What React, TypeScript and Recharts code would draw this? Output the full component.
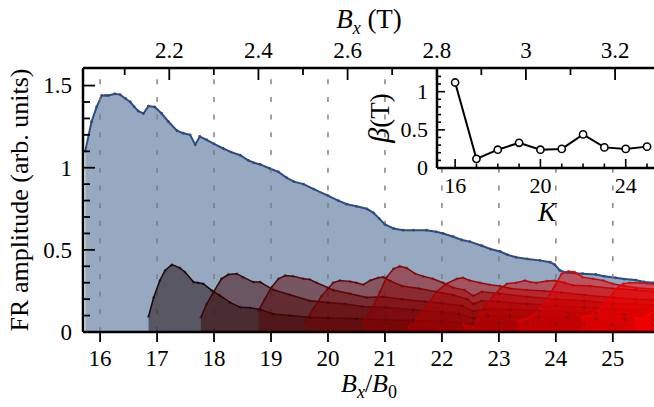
import React from "react";
import {
  Area,
  ComposedChart,
  Label,
  Line,
  LineChart,
  ReferenceArea,
  ReferenceLine,
  XAxis,
  YAxis,
} from "recharts";

const font = "Liberation Serif, Times New Roman, serif";

// Bx/B0 -> tesla
const B0 = 0.1278;

// main trace: [Bx/B0, FR amplitude]
const blue: [number, number][] = [
  [15.74, 1.1], [15.8, 1.2], [15.85, 1.28], [15.94, 1.37], [16.03, 1.44], [16.1, 1.44], [16.15, 1.44],
  [16.26, 1.45], [16.35, 1.445], [16.45, 1.42], [16.53, 1.4], [16.6, 1.37], [16.67, 1.345], [16.76, 1.33],
  [16.85, 1.375], [16.96, 1.37], [17.08, 1.33], [17.2, 1.28], [17.35, 1.225], [17.46, 1.21], [17.58, 1.2],
  [17.67, 1.14], [17.75, 1.19], [17.87, 1.17], [18.0, 1.145], [18.16, 1.117], [18.3, 1.095], [18.46, 1.076],
  [18.6, 1.045], [18.7, 1.03], [18.81, 1.02], [18.98, 0.995], [19.13, 0.975], [19.27, 0.94], [19.4, 0.915],
  [19.57, 0.9], [19.75, 0.87], [20.0, 0.83], [20.18, 0.8], [20.33, 0.778], [20.5, 0.765], [20.68, 0.75],
  [20.8, 0.725], [20.9, 0.69], [21.0, 0.655], [21.15, 0.63], [21.32, 0.62], [21.5, 0.62], [21.73, 0.62],
  [21.9, 0.61], [22.02, 0.6], [22.2, 0.58], [22.35, 0.56], [22.49, 0.55], [22.7, 0.525], [22.85, 0.505],
  [23.02, 0.49], [23.15, 0.47], [23.3, 0.455], [23.5, 0.445], [23.72, 0.436], [23.9, 0.425], [23.98, 0.41],
  [24.07, 0.375], [24.2, 0.36], [24.47, 0.355], [24.7, 0.35], [24.85, 0.34], [25.05, 0.33], [25.2, 0.322],
  [25.4, 0.316], [25.55, 0.305], [25.72, 0.3],
];

// filtered traces, one per K
const k16: [number, number][] = [
  [16.85, 0.094], [16.94, 0.21], [17.05, 0.314], [17.14, 0.375], [17.26, 0.41], [17.4, 0.39], [17.49, 0.365],
  [17.64, 0.304], [17.72, 0.3], [17.81, 0.294], [17.96, 0.253], [18.1, 0.223], [18.28, 0.18], [18.46, 0.15],
  [18.63, 0.147], [18.81, 0.137], [19.04, 0.11], [19.33, 0.1], [19.68, 0.09], [20.0, 0.085], [20.5, 0.08],
  [21.0, 0.075], [21.5, 0.07], [22.0, 0.065], [22.55, 0.05], [23.0, 0.055], [23.5, 0.052], [24.0, 0.05],
  [24.5, 0.048], [25.0, 0.046], [25.72, 0.044],
];
const k17: [number, number][] = [
  [17.77, 0.09], [17.87, 0.17], [17.99, 0.243], [18.13, 0.324], [18.25, 0.35], [18.4, 0.355], [18.51, 0.334],
  [18.69, 0.304], [18.81, 0.304], [19.04, 0.257], [19.33, 0.227], [19.68, 0.19], [20.0, 0.18], [20.3, 0.17],
  [20.6, 0.155], [21.0, 0.15], [21.5, 0.135], [22.0, 0.12], [22.3, 0.11], [22.55, 0.085], [22.8, 0.1],
  [23.2, 0.098], [23.7, 0.092], [24.2, 0.088], [24.7, 0.082], [25.2, 0.078], [25.72, 0.074],
];
const k18: [number, number][] = [
  [18.78, 0.13], [18.89, 0.2], [19.01, 0.273], [19.13, 0.324], [19.25, 0.344], [19.39, 0.34], [19.57, 0.324],
  [19.68, 0.32], [19.8, 0.3], [20.0, 0.27], [20.09, 0.255], [20.39, 0.233], [20.68, 0.21], [20.97, 0.215],
  [21.3, 0.2], [21.7, 0.185], [22.0, 0.175], [22.35, 0.16], [22.55, 0.125], [22.75, 0.14], [23.2, 0.138],
  [23.7, 0.13], [24.2, 0.12], [24.7, 0.115], [25.2, 0.108], [25.72, 0.1],
];
const k19: [number, number][] = [
  [19.6, 0.06], [19.74, 0.14], [19.89, 0.22], [20.0, 0.263], [20.09, 0.3], [20.21, 0.314], [20.39, 0.308],
  [20.5, 0.3], [20.62, 0.288], [20.74, 0.314], [20.88, 0.33], [20.97, 0.334], [21.1, 0.31], [21.3, 0.28],
  [21.6, 0.265], [21.9, 0.245], [22.2, 0.225], [22.45, 0.2], [22.55, 0.17], [22.7, 0.19], [23.0, 0.185],
  [23.5, 0.17], [24.0, 0.16], [24.5, 0.15], [25.0, 0.14], [25.72, 0.13],
];
const k20: [number, number][] = [
  [20.62, 0.06], [20.77, 0.14], [20.91, 0.243], [21.03, 0.334], [21.15, 0.385], [21.26, 0.4], [21.38, 0.39],
  [21.53, 0.355], [21.67, 0.34], [21.84, 0.324], [22.02, 0.3], [22.2, 0.27], [22.4, 0.255], [22.55, 0.22],
  [22.7, 0.245], [23.0, 0.235], [23.5, 0.215], [24.0, 0.2], [24.5, 0.19], [25.0, 0.175], [25.72, 0.165],
];
const k21: [number, number][] = [
  [21.41, 0.03], [21.55, 0.08], [21.73, 0.16], [21.9, 0.243], [22.08, 0.294], [22.26, 0.324], [22.37, 0.33],
  [22.49, 0.314], [22.67, 0.3], [22.84, 0.288], [23.02, 0.28], [23.2, 0.265], [23.5, 0.255], [23.8, 0.25],
  [24.1, 0.24], [24.5, 0.225], [25.0, 0.21], [25.4, 0.2], [25.72, 0.195],
];
const k22: [number, number][] = [
  [22.37, 0.05], [22.45, 0.035], [22.53, 0.022], [22.67, 0.11], [22.78, 0.17], [22.9, 0.22], [23.02, 0.263],
  [23.14, 0.294], [23.3, 0.3], [23.46, 0.314], [23.55, 0.305], [23.66, 0.3], [23.84, 0.31], [23.98, 0.314],
  [24.15, 0.3], [24.3, 0.285], [24.6, 0.28], [25.0, 0.265], [25.4, 0.255], [25.72, 0.245],
];
const k23: [number, number][] = [
  [23.34, 0.07], [23.49, 0.08], [23.66, 0.12], [23.84, 0.2], [23.98, 0.28], [24.1, 0.355], [24.22, 0.37],
  [24.33, 0.365], [24.47, 0.334], [24.65, 0.324], [24.83, 0.314], [25.0, 0.294], [25.2, 0.28], [25.4, 0.27],
  [25.72, 0.26],
];
const k24: [number, number][] = [
  [24.45, 0.09], [24.6, 0.1], [24.77, 0.14], [24.92, 0.2], [25.06, 0.263], [25.18, 0.294], [25.3, 0.3],
  [25.47, 0.3], [25.6, 0.295], [25.72, 0.29],
];
const k25: [number, number][] = [[25.39, 0.09], [25.5, 0.078], [25.61, 0.1], [25.72, 0.13]];

const curves = [k16, k17, k18, k19, k20, k21, k22, k23, k24, k25];
const curveColors = [
  "#1c0606", "#3c0404", "#580303", "#740202", "#900202",
  "#ab0101", "#c40000", "#dc0000", "#f00000", "#ff0000",
];

// inset
const kValues = [16, 17, 18, 19, 20, 21, 22, 23, 24, 25];
const betaValues = [1.12, 0.12, 0.24, 0.33, 0.24, 0.25, 0.44, 0.27, 0.25, 0.28];

// ticks
const dashedAt = [16, 17, 18, 19, 20, 21, 22, 23, 24, 25];
const bottomTicks = [16, 17, 18, 19, 20, 21, 22, 23, 24, 25];
const leftTicks = [0, 0.1, 0.2, 0.3, 0.4, 0.5, 0.6, 0.7, 0.8, 0.9, 1, 1.1, 1.2, 1.3, 1.4, 1.5];
const leftMajor = [0, 0.5, 1, 1.5];
const topTicks = [2.1, 2.2, 2.3, 2.4, 2.5, 2.6, 2.7, 2.8, 2.9, 3, 3.1, 3.2]; // tesla
const topMajor = [2.2, 2.4, 2.6, 2.8, 3, 3.2];
const insetXTicks = [16, 17, 18, 19, 20, 21, 22, 23, 24, 25];
const insetXMajor = [16, 20, 24];
const insetYTicks = [0, 0.1, 0.2, 0.3, 0.4, 0.5, 0.6, 0.7, 0.8, 0.9, 1, 1.1, 1.2];
const insetYMajor = [0, 0.5, 1];

const xDomain = [15.7, 25.74];
const yDomain = [0, 1.607];
// where the inset box sits, in main-plot units
const insetLeft = 21.91;
const insetBottom = 1.0;

const keys = curves.map((_, i) => `k${kValues[i]}`);
const allX = Array.from(new Set([...blue, ...curves.flat()].map((p) => p[0]))).sort((a, b) => a - b);
const table = allX.map((x) => {
  const row: Record<string, number> = { x };
  const b = blue.find((p) => p[0] === x);
  if (b) row.blue = b[1];
  curves.forEach((c, i) => {
    const p = c.find((q) => q[0] === x);
    if (p) row[keys[i]] = p[1];
  });
  return row;
});
const insetData = kValues.map((k, i) => ({ k, beta: betaValues[i] }));
// top axis shares the Bx/B0 scale, ticks placed at tesla / B0
const topTicksX = topTicks.map((t) => t / B0);

const fmt = (v: number) => String(v);

function LeftTick({ x, y, payload }: any) {
  const major = leftMajor.includes(payload.value);
  return (
    <g>
      <line x1={x} x2={x + (major ? 12 : 7)} y1={y} y2={y} stroke="#000" strokeWidth={1.8} />
      {major && (
        <text x={x - 11} y={y} dy="0.34em" textAnchor="end" fontSize={23} fontFamily={font} fill="#000">
          {fmt(payload.value)}
        </text>
      )}
    </g>
  );
}

function BottomTick({ x, y, payload }: any) {
  return (
    <g>
      <line x1={x} x2={x} y1={y} y2={y + 10} stroke="#000" strokeWidth={1.8} />
      <text x={x} y={y + 34} textAnchor="middle" fontSize={23} fontFamily={font} fill="#000">
        {fmt(payload.value)}
      </text>
    </g>
  );
}

function TopTick({ x, y, payload }: any) {
  const tesla = Math.round(payload.value * B0 * 10) / 10;
  const major = topMajor.includes(tesla);
  return (
    <g>
      <line x1={x} x2={x} y1={y} y2={y + (major ? 12 : 7)} stroke="#000" strokeWidth={1.8} />
      {major && (
        <text x={x} y={y - 10} textAnchor="middle" fontSize={23} fontFamily={font} fill="#000">
          {fmt(tesla)}
        </text>
      )}
    </g>
  );
}

function InsetBottomTick({ x, y, payload }: any) {
  const major = insetXMajor.includes(payload.value);
  return (
    <g>
      <line x1={x} x2={x} y1={y} y2={y - (major ? 9 : 4.5)} stroke="#000" strokeWidth={1.6} />
      {major && (
        <text x={x} y={y + 24.5} textAnchor="middle" fontSize={22} fontFamily={font} fill="#000">
          {fmt(payload.value)}
        </text>
      )}
    </g>
  );
}

function InsetLeftTick({ x, y, payload }: any) {
  const major = insetYMajor.includes(payload.value);
  return (
    <g>
      <line x1={x} x2={x + (major ? 8 : 4)} y1={y} y2={y} stroke="#000" strokeWidth={1.6} />
      {major && (
        <text x={x - 9} y={y} dy="0.34em" textAnchor="end" fontSize={22} fontFamily={font} fill="#000">
          {fmt(payload.value)}
        </text>
      )}
    </g>
  );
}

const axisLine = { stroke: "#000", strokeWidth: 2.5 };

export default function App() {
  return (
    <div
      style={{
        position: "fixed",
        left: 0,
        top: 0,
        width: 654,
        height: 407,
        overflow: "hidden",
        background: "#fff",
        fontFamily: font,
      }}
    >
      <div style={{ position: "absolute", left: 0, top: 0 }}>
        <ComposedChart width={656} height={407} data={table} margin={{ top: 67, right: 1, bottom: 74, left: 82 }}>
          <Area
            xAxisId="top"
            dataKey="blue"
            type="linear"
            stroke="#2b4c84"
            strokeWidth={2}
            fill="#97a9c1"
            fillOpacity={1}
            dot={{ r: 1.4, fill: "#2b4c84", stroke: "none" }}
            connectNulls
            isAnimationActive={false}
            zIndex={100}
          />
          {dashedAt.map((v) => (
            <ReferenceLine
              key={v}
              x={v}
              stroke="#7a7a7a"
              strokeWidth={1.4}
              strokeDasharray="5 12.7"
              zIndex={110}
            />
          ))}
          {keys.map((k, i) => (
            <Area
              key={k}
              dataKey={k}
              type="linear"
              stroke={curveColors[i]}
              strokeWidth={1.5}
              fill={curveColors[i]}
              fillOpacity={0.5}
              dot={{ r: 1.5, fill: curveColors[i], stroke: "none" }}
              connectNulls
              isAnimationActive={false}
              zIndex={120}
            />
          ))}
          <ReferenceArea
            x1={insetLeft}
            x2={xDomain[1]}
            y1={insetBottom}
            y2={yDomain[1]}
            fill="#fff"
            fillOpacity={1}
            stroke="none"
            ifOverflow="visible"
            zIndex={130}
          />
          <XAxis
            dataKey="x"
            type="number"
            domain={xDomain}
            allowDataOverflow
            ticks={bottomTicks}
            interval={0}
            height={1}
            tickSize={0}
            tickMargin={0}
            tickLine={false}
            axisLine={axisLine}
            tick={<BottomTick />}
          >
            <Label
              content={() => (
                <text x={369} y={392} textAnchor="middle" fontSize={26} fontFamily={font} fill="#000">
                  <tspan fontStyle="italic">B</tspan>
                  <tspan fontStyle="italic" fontSize={18} dy={6}>x</tspan>
                  <tspan dy={-6}>/</tspan>
                  <tspan fontStyle="italic">B</tspan>
                  <tspan fontSize={18} dy={6}>0</tspan>
                </text>
              )}
            />
          </XAxis>
          <XAxis
            xAxisId="top"
            orientation="top"
            dataKey="x"
            type="number"
            domain={xDomain}
            allowDataOverflow
            ticks={topTicksX}
            interval={0}
            height={1}
            tickSize={0}
            tickMargin={0}
            tickLine={false}
            axisLine={axisLine}
            tick={<TopTick />}
          >
            <Label
              content={() => (
                <text x={369} y={28} textAnchor="middle" fontSize={27} fontFamily={font} fill="#000">
                  <tspan fontStyle="italic">B</tspan>
                  <tspan fontStyle="italic" fontSize={18} dy={6}>x</tspan>
                  <tspan dy={-6}> (T)</tspan>
                </text>
              )}
            />
          </XAxis>
          <YAxis
            type="number"
            domain={yDomain}
            allowDataOverflow
            ticks={leftTicks}
            interval={0}
            width={1}
            tickSize={0}
            tickMargin={0}
            tickLine={false}
            axisLine={axisLine}
            tick={<LeftTick />}
          >
            <Label
              content={() => (
                <text
                  transform="translate(28,200) rotate(-90)"
                  textAnchor="middle"
                  fontSize={26}
                  fontFamily={font}
                  fill="#000"
                >
                  FR amplitude (arb. units)
                </text>
              )}
            />
          </YAxis>
        </ComposedChart>
      </div>

      <div style={{ position: "absolute", left: 0, top: 0 }}>
        <LineChart width={656} height={407} data={insetData} margin={{ top: 68, right: 0, bottom: 238, left: 436 }}>
          <XAxis
            dataKey="k"
            type="number"
            domain={[15.15, 25.42]}
            allowDataOverflow
            ticks={insetXTicks}
            interval={0}
            height={1}
            tickSize={0}
            tickMargin={0}
            tickLine={false}
            axisLine={axisLine}
            tick={<InsetBottomTick />}
          >
            <Label
              content={() => (
                <text x={547} y={221} textAnchor="middle" fontSize={27} fontStyle="italic" fontFamily={font} fill="#000">
                  K
                </text>
              )}
            />
          </XAxis>
          <YAxis
            type="number"
            domain={[0, 1.31]}
            allowDataOverflow
            ticks={insetYTicks}
            interval={0}
            width={1}
            tickSize={0}
            tickMargin={0}
            tickLine={false}
            axisLine={axisLine}
            tick={<InsetLeftTick />}
          >
            <Label
              content={() => (
                <text
                  transform="translate(389,118) rotate(-90)"
                  textAnchor="middle"
                  fontSize={27}
                  fontFamily={font}
                  fill="#000"
                >
                  <tspan fontStyle="italic" fontSize={30}>β</tspan>
                  <tspan>(T)</tspan>
                </text>
              )}
            />
          </YAxis>
          <Line
            dataKey="beta"
            type="linear"
            stroke="#000"
            strokeWidth={2}
            dot={{ r: 3.6, fill: "#fff", stroke: "#000", strokeWidth: 1.6 }}
            isAnimationActive={false}
          />
        </LineChart>
      </div>
    </div>
  );
}
